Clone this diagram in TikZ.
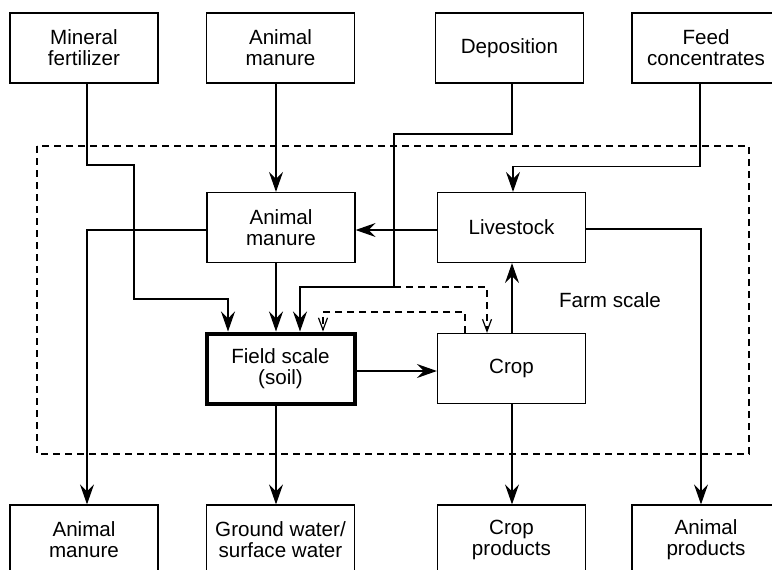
\documentclass[tikz,border=0pt]{standalone}
\usepackage{fontspec}
\setmainfont{Liberation Sans}
\usetikzlibrary{arrows.meta,calc}
\begin{document}
\begin{tikzpicture}[x=0.5pt,y=-0.5pt,font=\fontsize{10.3}{10.5}\selectfont,
  box/.style={draw,line width=0.6pt,minimum width=74pt,minimum height=35pt,inner sep=0pt,align=center},
  flow/.style={line width=0.6pt,-{Stealth[length=10pt,width=7pt,inset=3.5pt]}},
  back/.style={line width=0.6pt,dash pattern=on 3.5pt off 2.5pt,-{Straight Barb[length=6pt,width=4.5pt]}}]
\useasboundingbox (0,0) rectangle (772,569);
% farm boundary
\draw[line width=0.6pt,dash pattern=on 3.5pt off 2.5pt] (37,146) rectangle (749,454);
\node (farm) at (610,300) {Farm scale};
% inputs
\node[box] (mf) at (84,48) {Mineral\\fertilizer};
\node[box] (amtop) at (280.5,48) {Animal\\manure};
\node[box] (dep) at (509.5,48) {Deposition};
\node[box] (feed) at (706,48) {Feed\\concentrates};
% farm
\node[box] (amin) at (281,227.5) {Animal\\manure};
\node[box] (live) at (511.5,227.5) {Livestock};
\node[box,line width=2pt] (field) at (280.5,368.5) {Field scale\\(soil)};
\node[box] (crop) at (511.5,368.5) {Crop};
% outputs
\node[box] (amout) at (84,540) {Animal\\manure};
\node[box] (water) at (280.5,540) {Ground water/\\surface water};
\node[box] (cropout) at (511.5,540) {Crop\\products};
\node[box] (animout) at (706,540) {Animal\\products};
% flows
\draw[flow] ($(mf.south)+(3,0)$) |- (134,165) -- (134,299) -| ($(field.north)+(-52.5,0)$);
\draw[flow] ($(amtop.south)+(-4.5,0)$) -- ($(amin.north)+(-5,0)$);
\coordinate (depbend) at (394,287);
\draw[flow] ($(dep.south)+(2.5,0)$) |- (394,134) -- (depbend) -| ($(field.north)+(19.5,0)$);
\draw[back] (depbend) -| ($(crop.north)+(-24.5,0)$);
\draw[back] ($(crop.north)+(-46.5,0)$) -- ++(0,-21) -| ($(field.north)+(42.5,0)$);
\draw[flow] ($(feed.south)+(-6,0)$) -- ++(0,83) -| ($(live.north)+(1.5,0)$);
\draw[flow] ($(live.west)+(0,2.5)$) -- ($(amin.east)+(0,2.5)$);
\draw[flow] ($(amin.west)+(0,2.5)$) -| ($(amout.north)+(3,0)$);
\draw[flow] ($(amin.south)+(-5,0)$) -- ($(field.north)+(-4.5,0)$);
\draw[flow] ($(field.east)+(0,2.5)$) -- ($(crop.west)+(0,2.5)$);
\draw[flow] ($(crop.north)+(0.5,0)$) -- ($(live.south)+(0.5,0)$);
\draw[flow] ($(live.east)+(0,1.5)$) -| ($(animout.north)+(-5,0)$);
\draw[flow] ($(field.south)+(-4.5,0)$) -- ($(water.north)+(-4.5,0)$);
\draw[flow] ($(crop.south)+(0.5,0)$) -- ($(cropout.north)+(0.5,0)$);
\end{tikzpicture}
\end{document}
